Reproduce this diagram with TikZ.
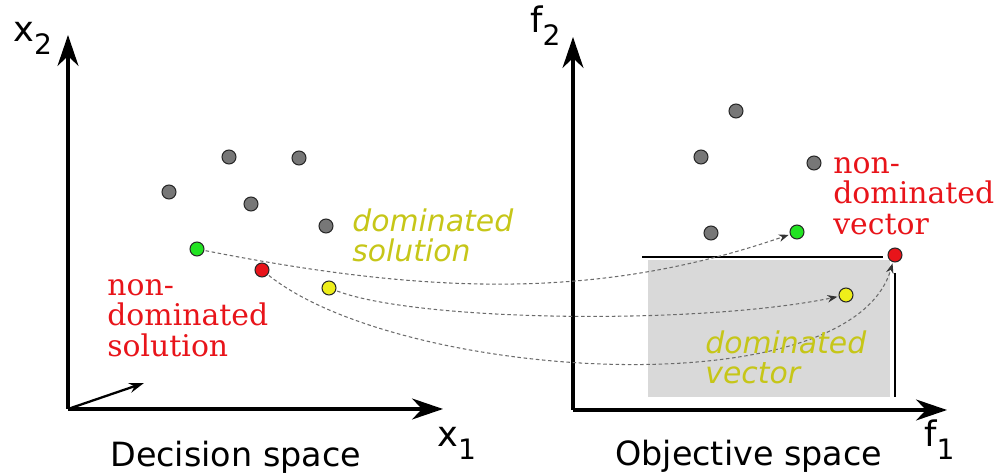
\documentclass[tikz,border=0pt]{standalone}
\usepackage{fontspec}
\setmainfont{DejaVu Serif}
\setsansfont{DejaVu Sans}
\usepackage{xcolor}
\usepackage{tikz}
\usetikzlibrary{arrows.meta}
\definecolor{gris}{HTML}{777777}
\definecolor{grisclair}{HTML}{D9D9D9}
\definecolor{vert}{HTML}{22E322}
\definecolor{rouge}{HTML}{E8141A}
\definecolor{jaune}{HTML}{EEEE1A}
\definecolor{ocre}{HTML}{C6C618}
\newcommand{\etiqaxe}[2]{#1\raisebox{-7pt}{\fontsize{16}{16}\selectfont #2}}

\begin{document}
\begin{tikzpicture}[x=0.02cm, y=-0.02cm,
    point/.style={circle, draw=black!85, line width=0.6pt, inner sep=0pt, minimum size=0.28cm, outer sep=1pt},
    axe/.style={line width=1.8pt, -{Stealth[length=0.62cm, width=0.42cm, inset=0.2cm]}},
    lien/.style={gris!90!black, dash pattern=on 2pt off 1.5pt, line width=0.6pt, -{Stealth[length=0.2cm, width=0.15cm, color=black!80]}},
    etiq/.style={inner sep=0pt, anchor=north west, align=left},
    txtrouge/.style={etiq, text=rouge, font=\fontsize{17}{17.4}\selectfont},
    txtjaune/.style={etiq, text=ocre, font=\sffamily\itshape\fontsize{17}{17.1}\selectfont},
    txtaxe/.style={inner sep=0pt, anchor=base west, font=\sffamily\fontsize{20}{20}\selectfont}]
    \useasboundingbox (0,0) rectangle (1002,475);

    % zone dominee
    \fill[grisclair] (648,260) rectangle (890,397);
    \draw[line width=1.1pt] (642,257) -- (883,257);
    \draw[line width=1.1pt] (895,273) -- (895,397);

    % axes
    \coordinate (od) at (68,409);
    \coordinate (oo) at (573,410);
    \draw[axe] (od) -- (68,35);
    \draw[axe] (od) -- (443,409);
    \draw[line width=1.3pt, -{Stealth[length=0.3cm, width=0.2cm, inset=0.1cm]}] (od) -- (144,383);
    \draw[axe] (oo) -- (573,37);
    \draw[axe] (oo) -- (947,410);

    \node[txtaxe] (lx2) at (13,42) {\etiqaxe{x}{2}};
    \node[txtaxe] (lx1) at (437,447) {\etiqaxe{x}{1}};
    \node[txtaxe] (lf2) at (530,33) {\etiqaxe{f}{2}};
    \node[txtaxe] (lf1) at (924,447) {\etiqaxe{f}{1}};
    \node[txtaxe, font=\sffamily\fontsize{19}{19}\selectfont] (decision) at (110,467) {Decision space};
    \node[txtaxe, font=\sffamily\fontsize{19}{19}\selectfont] (objectif) at (615,466) {Objective space};

    % points
    \foreach \x/\y [count=\i] in {229/157, 299/158, 169/192, 251/204, 326/226}
      \node[point, fill=gris] (d\i) at (\x,\y) {};
    \foreach \x/\y [count=\i] in {736/111, 701/157, 814/163, 711/233}
      \node[point, fill=gris] (o\i) at (\x,\y) {};
    \node[point, fill=vert] (dv) at (197,249) {};
    \node[point, fill=rouge] (dr) at (262,270) {};
    \node[point, fill=jaune] (dj) at (329,288) {};
    \node[point, fill=vert] (ov) at (797,232) {};
    \node[point, fill=rouge] (or) at (895,255) {};
    \node[point, fill=jaune] (oj) at (846,295) {};

    % correspondances
    \draw[lien] (dv) .. controls (430,295) and (600,300) .. (ov);
    \draw[lien] (dj) .. controls (420,322) and (700,325) .. (oj);
    \draw[lien] (dr) .. controls (400,380) and (850,410) .. (or);

    \node[txtjaune] (soldom) at (352,208) {dominated\\solution};
    \node[txtrouge] (solnd) at (107,279) {non-\\dominated\\solution};
    \node[txtrouge] (vecnd) at (833,157) {non-\\dominated\\vector};
    \node[txtjaune] (vecdom) at (705,330) {dominated\\vector};
  \end{tikzpicture}
\end{document}
